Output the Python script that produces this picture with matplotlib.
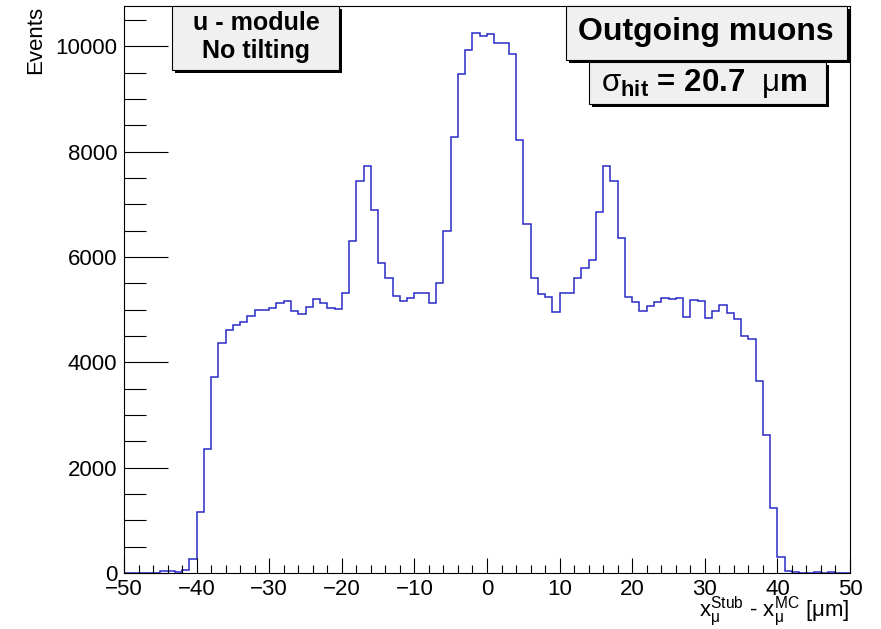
import numpy as np
import matplotlib
matplotlib.use('Agg')
import matplotlib.pyplot as plt
from matplotlib.patches import Rectangle
from matplotlib.ticker import MultipleLocator

plt.rcParams.update({'font.family': ['Liberation Sans', 'DejaVu Sans'],
                     'mathtext.fontset': 'custom',
                     'mathtext.rm': 'Liberation Sans',
                     'mathtext.it': 'Liberation Sans:italic',
                     'mathtext.bf': 'Liberation Sans:bold',
                     'axes.linewidth': 0.8})

#%%
""" residuals x(stub) - x(MC), 1 um bins from -50 to 50 """
x_lo, x_hi = -50, 50
counts = [
    0, 0, 0, 0, 0, 30, 30, 10, 55, 267,
    1159, 2351, 3725, 4365, 4612, 4714, 4770, 4879, 4992, 4992,
    5024, 5131, 5163, 4979, 4916, 5043, 5194, 5119, 5037, 5011,
    5321, 6303, 7438, 7735, 6893, 5891, 5595, 5259, 5163, 5227,
    5321, 5321, 5119, 5505, 6487, 8280, 9477, 9920, 10251, 10186,
    10230, 10060, 10055, 9844, 8217, 6621, 5608, 5290, 5246, 4960,
    5309, 5309, 5595, 5785, 5943, 6848, 7728, 7443, 6355, 5246,
    5138, 4973, 5075, 5138, 5227, 5201, 5227, 4865, 5188, 5163,
    4847, 4973, 5094, 4941, 4827, 4505, 4435, 3649, 2611, 1243,
    310, 35, 12, 8, 8, 10, 8, 10, 8, 8,
]
edges = np.linspace(x_lo, x_hi, len(counts) + 1)

title_text = "Outgoing muons"
module_text = ["u - module", "No tilting"]
sigma_hit = 20.7

#%%
W, H = 881, 629
fig = plt.figure(figsize=(W / 100, H / 100), dpi=100, facecolor='w')
ax = fig.add_axes([124 / W, 1 - 573 / H, (850 - 124) / W, (573 - 6) / H])

ax.stairs(counts, edges, color='#2a2ac8', lw=1.1)
ax.set_xlim(x_lo, x_hi)
ax.set_ylim(0, 1.05 * max(counts))

ax.xaxis.set_major_locator(MultipleLocator(10))
ax.xaxis.set_minor_locator(MultipleLocator(2))
ax.yaxis.set_major_locator(MultipleLocator(2000))
ax.yaxis.set_minor_locator(MultipleLocator(500))
ax.tick_params(axis='both', which='both', direction='in', labelsize=16, width=0.8)
ax.tick_params(axis='x', which='major', length=11, pad=4)
ax.tick_params(axis='x', which='minor', length=5.5)
ax.tick_params(axis='y', which='major', length=32, pad=5)
ax.tick_params(axis='y', which='minor', length=16)


def px(x, y):
    return x / W, 1 - y / H


def pave(x0, y0, x1, y1, shadow=3):
    """ ROOT style pave: grey box with a black drop shadow """
    sx, sy = px(x0 + shadow, y1 + shadow)
    fig.add_artist(Rectangle((sx, sy), (x1 - x0) / W, (y1 - y0) / H,
                             transform=fig.transFigure, facecolor='black', edgecolor='none', zorder=5))
    bx, by = px(x0, y1)
    fig.add_artist(Rectangle((bx, by), (x1 - x0) / W, (y1 - y0) / H,
                             transform=fig.transFigure, facecolor='#f0f0f0', edgecolor='black',
                             lw=0.8, zorder=6))


pave(172, 6, 339, 70)
fig.text(*px(256, 23), module_text[0], ha='center', va='center', fontsize=18, fontweight='bold', zorder=7)
fig.text(*px(256, 51), module_text[1], ha='center', va='center', fontsize=18, fontweight='bold', zorder=7)

pave(566, 6, 847, 60)
fig.text(*px(706, 32), title_text, ha='center', va='center', fontsize=23, fontweight='bold', zorder=7)

pave(589, 62, 826, 104)
fig.text(*px(704, 84), r'$\mathrm{\sigma}_{\mathbf{hit}}$ = %.1f  $\mathrm{\mu}$m' % sigma_hit,
         ha='center', va='center', fontsize=22.5, fontweight='bold', zorder=7)

fig.text(*px(36, 6), "Events", rotation=90, ha='center', va='top', fontsize=16)
fig.text(*px(849, 628),
         r'$\mathrm{x}_{\mathrm{\mu}}^{\mathrm{Stub}}$ - $\mathrm{x}_{\mathrm{\mu}}^{\mathrm{MC}}$ [$\mathrm{\mu}$m]',
         ha='right', va='bottom', fontsize=16)

fig.savefig('out.png', dpi=100)
